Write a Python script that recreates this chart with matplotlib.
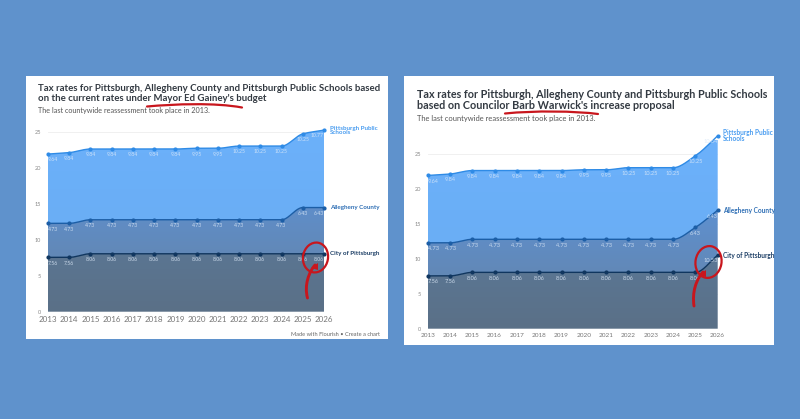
import numpy as np
import matplotlib
matplotlib.use("Agg")
import matplotlib.pyplot as plt
from matplotlib.path import Path
from matplotlib.patches import PathPatch, Rectangle, Ellipse

years = list(range(2013, 2027))
y_ticks = [0, 5, 10, 15, 20, 25]

# rates per layer
city_gainey = [7.56, 7.56, 8.06, 8.06, 8.06, 8.06, 8.06, 8.06, 8.06, 8.06, 8.06, 8.06, 8.06, 8.06]
county_gainey = [4.73, 4.73, 4.73, 4.73, 4.73, 4.73, 4.73, 4.73, 4.73, 4.73, 4.73, 4.73, 6.43, 6.43]
schools_gainey = [9.64, 9.84, 9.84, 9.84, 9.84, 9.84, 9.84, 9.95, 9.95, 10.25, 10.25, 10.25, 10.25, 10.77]

city_warwick = [7.56, 7.56, 8.06, 8.06, 8.06, 8.06, 8.06, 8.06, 8.06, 8.06, 8.06, 8.06, 8.06, 10.53]
county_warwick = [4.73, 4.73, 4.73, 4.73, 4.73, 4.73, 4.73, 4.73, 4.73, 4.73, 4.73, 4.73, 6.43, 6.43]
schools_warwick = [9.64, 9.84, 9.84, 9.84, 9.84, 9.84, 9.84, 9.95, 9.95, 10.25, 10.25, 10.25, 10.25, 10.64]

W, H = 800, 419
BG = "#5f92cc"
YMAX = 29
RED = "#c8161d"


def smooth(x, y, n=24):
    # monotone cubic between the points, like the flourish curve
    x = np.asarray(x, float)
    y = np.asarray(y, float)
    d = np.diff(y) / np.diff(x)
    m = np.zeros_like(y)
    m[0], m[-1] = d[0], d[-1]
    for i in range(1, len(y) - 1):
        if d[i - 1] * d[i] > 0:
            m[i] = 2 * d[i - 1] * d[i] / (d[i - 1] + d[i])
    xs, ys = [], []
    for i in range(len(x) - 1):
        t = np.linspace(0, 1, n, endpoint=False)
        h = x[i + 1] - x[i]
        ys.append((2*t**3 - 3*t**2 + 1) * y[i] + (t**3 - 2*t**2 + t) * h * m[i]
                  + (-2*t**3 + 3*t**2) * y[i + 1] + (t**3 - t**2) * h * m[i + 1])
        xs.append(x[i] + t * h)
    return np.r_[np.concatenate(xs), x[-1]], np.r_[np.concatenate(ys), y[-1]]


def gradient_area(ax, x, low, high, c_top, c_bottom, v_top, v_bottom, z):
    # vertical gradient clipped to the band between two curves
    poly = np.r_[np.c_[x, high], np.c_[x[::-1], low[::-1]]]
    ramp = np.linspace(0, 1, 128)[:, None, None]
    c1 = np.array(matplotlib.colors.to_rgb(c_top))[None, None, :]
    c2 = np.array(matplotlib.colors.to_rgb(c_bottom))[None, None, :]
    img = c1 * (1 - ramp) + c2 * ramp
    im = ax.imshow(img, extent=[x[0], x[-1], v_bottom, v_top], aspect="auto", zorder=z, interpolation="bilinear")
    im.set_clip_path(PathPatch(Path(poly), transform=ax.transData))


def draw_chart(box, city, county, schools, fs_ticks, fs_x, fs_ends, fs_vals):
    left, right, y0, y25 = box
    per = (y0 - y25) / 25
    top = y0 - per * YMAX
    ax = fig.add_axes([left / W, 1 - y0 / H, (right - left) / W, (y0 - top) / H], zorder=3)
    ax.patch.set_alpha(0)
    for s in ax.spines.values():
        s.set_visible(False)

    s1 = np.array(city)
    s2 = s1 + np.array(county)
    s3 = s2 + np.array(schools)

    x1, l1 = smooth(years, s1)
    x1, l2 = smooth(years, s2)
    x1, l3 = smooth(years, s3)

    ax.set_xlim(years[0], years[-1])
    ax.set_ylim(0, YMAX)
    ax.set_yticks(y_ticks)
    ax.set_yticklabels([str(v) for v in y_ticks], fontsize=fs_ticks, color="#8a8a8a", family="Lato")
    ax.set_xticks(years)
    ax.set_xticklabels([str(v) for v in years], fontsize=fs_x, color="#777777", family="Lato")
    ax.tick_params(length=0, pad=3)
    ax.tick_params(axis="y", pad=5)
    ax.grid(axis="y", color="#eeeeee", lw=0.6, zorder=0)
    ax.set_axisbelow(True)

    gradient_area(ax, x1, l2, l3, "#6cb1fb", "#6aaef5", 27, 12, 1)
    gradient_area(ax, x1, l1, l2, "#5e90d0", "#6288b6", 17, 7.5, 1.1)
    gradient_area(ax, x1, np.zeros_like(l1), l1, "#5b7795", "#5a7087", 10.5, 0, 1.2)
    ax.set_xlim(years[0], years[-1])
    ax.set_ylim(0, YMAX)

    for vals, line, col in ((s3, l3, "#2f8be6"), (s2, l2, "#1c5ea6"), (s1, l1, "#10365f")):
        ax.plot(x1, line, color=col, lw=1.0, zorder=4, clip_on=False)
        ax.plot(years, vals, "o", color=col, ms=2.0, zorder=5, clip_on=False)

    # value labels under each point, the end ones pulled inside the area
    for vals, stack in ((schools, s3), (county, s2), (city, s1)):
        for yr, v, st in zip(years, vals, stack):
            ha = "left" if yr == years[0] else "right" if yr == years[-1] else "center"
            ax.annotate(f"{v:.2f}", (yr, st), xytext=(0, -4.2), textcoords="offset points",
                        ha=ha, va="center", fontsize=fs_vals, color="#dce9f8", alpha=0.85, zorder=6,
                        family="Lato", annotation_clip=False)

    end = years[-1]
    ax.annotate("Pittsburgh Public\nSchools", (end, s3[-1]), xytext=(4, 0), textcoords="offset points",
                fontsize=fs_ends, fontweight="bold", color="#4a9df0", va="center", linespacing=0.8,
                family="Lato", annotation_clip=False, zorder=6)
    ax.annotate("Allegheny County", (end, s2[-1]), xytext=(4, 0), textcoords="offset points",
                fontsize=fs_ends, fontweight="bold", color="#2f6fb5", va="center",
                family="Lato", annotation_clip=False, zorder=6)
    ax.annotate("City of Pittsburgh", (end, s1[-1]), xytext=(4, 0), textcoords="offset points",
                fontsize=fs_ends, fontweight="bold", color="#1d3f66", va="center",
                family="Lato", annotation_clip=False, zorder=6)
    return ax


def curve(pts, lw=1.6, col=RED):
    codes = [Path.MOVETO] + [Path.CURVE4] * (len(pts) - 1)
    over.add_patch(PathPatch(Path(pts, codes), fill=False, edgecolor=col, lw=lw, capstyle="round"))


fig = plt.figure(figsize=(W / 100, H / 100), dpi=100, facecolor=BG)

# page layer with the two white cards
page = fig.add_axes([0, 0, 1, 1], zorder=1)
page.set_xlim(0, W)
page.set_ylim(H, 0)
page.axis("off")
page.add_patch(Rectangle((26, 76), 362, 263, fc="white", ec="none"))
page.add_patch(Rectangle((404, 76), 370, 269, fc="white", ec="none"))

TITLE = "#333a42"
page.text(38, 88.5, "Tax rates for Pittsburgh, Allegheny County and Pittsburgh Public Schools based",
          fontsize=6.9, fontweight="bold", color=TITLE, family="Lato", va="center")
page.text(38, 98.5, "on the current rates under Mayor Ed Gainey's budget",
          fontsize=6.9, fontweight="bold", color=TITLE, family="Lato", va="center")
page.text(38, 110, "The last countywide reassessment took place in 2013.",
          fontsize=5.2, color="#555555", family="Lato", va="center")

page.text(417, 95, "Tax rates for Pittsburgh, Allegheny County and Pittsburgh Public Schools",
          fontsize=7.75, fontweight="bold", color=TITLE, family="Lato", va="center")
page.text(417, 105.5, "based on Councilor Barb Warwick's increase proposal",
          fontsize=7.75, fontweight="bold", color=TITLE, family="Lato", va="center")
page.text(417, 118, "The last countywide reassessment took place in 2013.",
          fontsize=5.45, color="#555555", family="Lato", va="center")

page.text(380, 334.5, "Made with Flourish • Create a chart", fontsize=4.05, color="#666666",
          family="Lato", ha="right", va="center")

draw_chart((48, 324, 311.7, 132), city_gainey, county_gainey, schools_gainey, 4, 5.8, 4.5, 3.7)
draw_chart((427.7, 717.7, 328.7, 154), city_warwick, county_warwick, schools_warwick, 4, 4.6, 4.7, 4.1)

# red marker scribbles on top of everything
over = fig.add_axes([0, 0, 1, 1], zorder=10)
over.set_xlim(0, W)
over.set_ylim(H, 0)
over.axis("off")
over.patch.set_alpha(0)

curve([(147, 106.5), (175, 104), (215, 102.5), (242, 107.5)])
over.add_patch(Ellipse((315.5, 257.5), 25, 30, angle=10, fill=False, edgecolor=RED, lw=1.6))
curve([(307.5, 298), (304, 285), (309, 272), (315, 265)], lw=2.1)
over.fill([311, 318, 318], [268, 263, 270], color=RED, lw=0)

curve([(505, 113.5), (535, 110.5), (575, 111), (598, 114)])
over.add_patch(Ellipse((708.5, 262), 26, 32, angle=10, fill=False, edgecolor=RED, lw=1.6))
curve([(694, 306), (692, 292), (696, 280), (703, 272)], lw=2.1)
over.fill([699, 706, 706], [275, 270, 277], color=RED, lw=0)

fig.savefig("out.png", dpi=100, facecolor=BG)
